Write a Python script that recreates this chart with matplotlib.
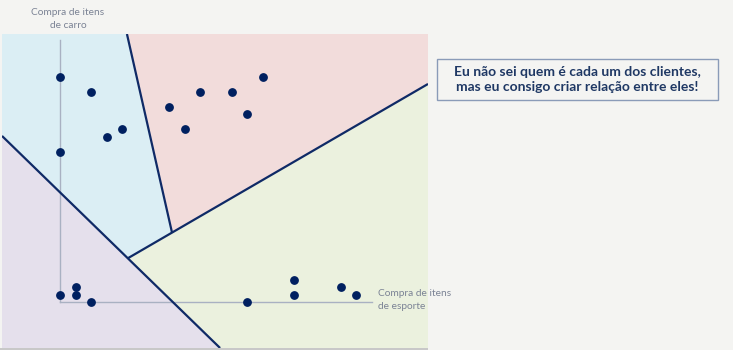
import matplotlib
matplotlib.use("Agg")
import matplotlib.pyplot as plt
from matplotlib.patches import Polygon, Rectangle

# ---- data (chart units: x = sport purchases, y = car purchases) ----
blue_x = [0, 2, 3, 4, 0]
blue_y = [30, 28, 22, 23, 20]
pink_x = [7, 8, 9, 11, 12, 13]
pink_y = [26, 23, 28, 28, 25, 30]
purple_x = [0, 1, 1, 2]
purple_y = [1, 2, 1, 0]
green_x = [12, 15, 15, 18, 19]
green_y = [0, 3, 1, 2, 1]

# decision boundaries (chart units)
XMIN, XMAX = -3.72, 23.59
YMIN, YMAX = -6.13, 35.73
junction_a = (4.36, 5.85)
junction_b = (7.18, 9.25)
line1_top = (4.29, YMAX)
line2_right = (XMAX, 29.07)
line3_left = (XMIN, 22.14)
line3_bottom = (10.26, YMIN)

axis_y_top = 34.9
axis_x_right = 20.0

label_y = "Compra de itens\nde carro"
label_x = "Compra de itens\nde esporte"
message = "Eu não sei quem é cada um dos clientes,\nmas eu consigo criar relação entre eles!"

W, H = 733, 350
fig = plt.figure(figsize=(W / 100, H / 100), dpi=100)
fig.patch.set_facecolor("#f4f4f2")

# colored panel position in pixels
px0, py0, px1, py1 = 2, 34, 428, 348
ax = fig.add_axes([px0 / W, 1 - py1 / H, (px1 - px0) / W, (py1 - py0) / H])
ax.set_xlim(XMIN, XMAX)
ax.set_ylim(YMIN, YMAX)
ax.axis("off")

c_blue = "#dbeef4"
c_pink = "#f2dcdb"
c_green = "#ebf1de"
c_purple = "#e5e0ec"

regions = [
    ([(XMIN, YMAX), line1_top, junction_b, junction_a, line3_left], c_blue),
    ([line1_top, (XMAX, YMAX), line2_right, junction_b], c_pink),
    ([junction_a, junction_b, line2_right, (XMAX, YMIN), line3_bottom], c_green),
    ([line3_left, junction_a, line3_bottom, (XMIN, YMIN)], c_purple),
]
for pts, col in regions:
    ax.add_patch(Polygon(pts, closed=True, facecolor=col, edgecolor=col, lw=0.5, zorder=1))

# axes lines
axc = "#a9b1c2"
ax.plot([0, 0], [0, axis_y_top], color=axc, lw=1.0, zorder=2)
ax.plot([0, axis_x_right], [0, 0], color=axc, lw=1.0, zorder=2)

# boundaries
lc = "#0f2a66"
ax.plot([line3_left[0], line3_bottom[0]], [line3_left[1], line3_bottom[1]], color=lc, lw=1.6, zorder=3, solid_capstyle="butt")
ax.plot([junction_a[0], line2_right[0]], [junction_a[1], line2_right[1]], color=lc, lw=1.6, zorder=3, solid_capstyle="butt")
ax.plot([junction_b[0], line1_top[0]], [junction_b[1], line1_top[1]], color=lc, lw=1.6, zorder=3, solid_capstyle="butt")

dc = "#002060"
for xs, ys in [(blue_x, blue_y), (pink_x, pink_y), (purple_x, purple_y), (green_x, green_y)]:
    ax.plot(xs, ys, "o", color=dc, ms=5.3, mec=dc, zorder=4, clip_on=False)

# bottom gray strip
fig.add_artist(Rectangle((0, 0), px1 / W, 2 / H, transform=fig.transFigure, facecolor="#c8c8c8", edgecolor="none"))

def fx(x):
    return x / W

def fy(y):
    return 1 - y / H

tc = "#7a8294"
fig.text(fx(68), fy(19), label_y, ha="center", va="center", fontsize=7.3,
         color=tc, family="Lato", linespacing=1.5)
fig.text(fx(378), fy(300), label_x, ha="left", va="center", fontsize=7.3,
         color=tc, family="Lato", linespacing=1.5)

# message box
bx0, by0, bx1, by1 = 437, 59, 718, 100
fig.add_artist(Rectangle((fx(bx0), fy(by1)), (bx1 - bx0) / W, (by1 - by0) / H,
                         transform=fig.transFigure, facecolor="none",
                         edgecolor="#8a9bb8", lw=1.0))
fig.text(fx((bx0 + bx1) / 2), fy((by0 + by1) / 2), message, ha="center", va="center",
         fontsize=10, fontweight="bold", color="#1f3864", family="Lato", linespacing=1.35)

fig.savefig("out.png", dpi=100, facecolor=fig.get_facecolor())
